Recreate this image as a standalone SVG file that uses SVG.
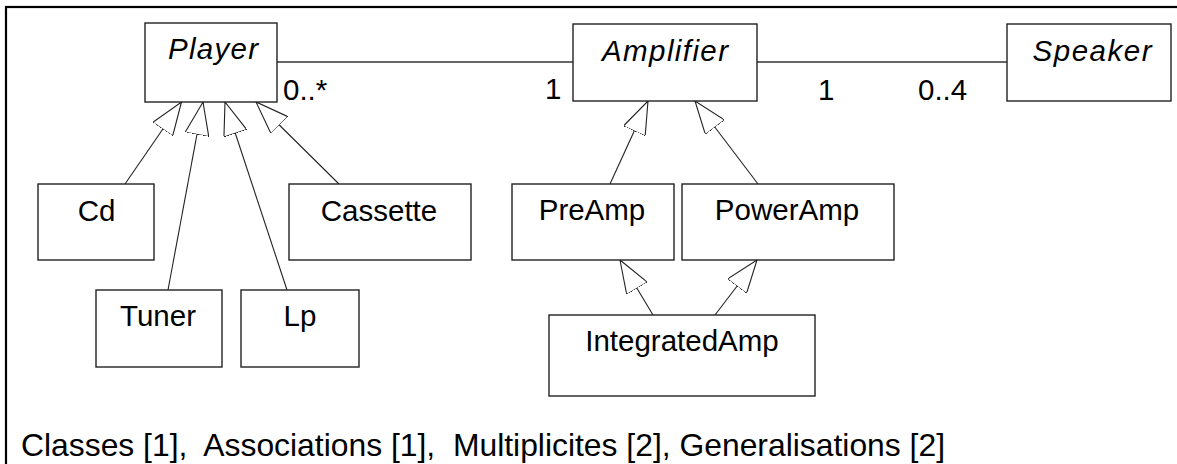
<svg xmlns="http://www.w3.org/2000/svg" width="1177" height="464" viewBox="0 0 1177 464">
<style>
.box{fill:#fff;stroke:#222;stroke-width:1.4}
.lbl{font-family:"Liberation Sans",Arial,sans-serif;font-size:29.5px;fill:#000;text-anchor:middle}
.it{font-style:italic}
.mult{font-family:"Liberation Sans",Arial,sans-serif;font-size:29.5px;fill:#000}
.assoc{stroke:#333;stroke-width:1.4;fill:none}
.gen{stroke:#222;stroke-width:1.1;fill:none;marker-end:url(#tri)}
.foot{font-family:"Liberation Sans",Arial,sans-serif;font-size:32px;fill:#000;white-space:pre}
</style>
<defs>
<marker id="tri" viewBox="0 0 34 24" markerWidth="34" markerHeight="24" refX="33" refY="12" orient="auto" markerUnits="userSpaceOnUse">
<path d="M0,0 L33,12 L0,24 Z" fill="#fff" stroke="#222" stroke-width="1.1"/>
</marker>
</defs>
<rect width="1177" height="464" fill="#fff"/>
<rect x="6" y="7" width="1200" height="500" fill="none" stroke="#000" stroke-width="2.2"/>
<g id="connectors">
<line class="assoc" x1="277" y1="62" x2="573" y2="62"/>
<line class="assoc" x1="757" y1="62" x2="1007" y2="62"/>
<line class="gen" x1="125" y1="184" x2="181.5" y2="102"/>
<line class="gen" x1="168" y1="290" x2="203" y2="102"/>
<line class="gen" x1="287" y1="290" x2="225" y2="102"/>
<line class="gen" x1="339" y1="184" x2="256" y2="102"/>
<line class="gen" x1="610" y1="184" x2="648" y2="101"/>
<line class="gen" x1="758" y1="184" x2="695" y2="101"/>
<line class="gen" x1="653" y1="315" x2="620" y2="260"/>
<line class="gen" x1="715" y1="315" x2="757" y2="260"/>
<text class="mult" x="283" y="100">0..*</text>
<text class="mult" x="545" y="99">1</text>
<text class="mult" x="818" y="100">1</text>
<text class="mult" x="918" y="100">0..4</text>
</g>
<g id="Player"><rect class="box" x="145" y="23" width="132" height="79"/><text class="lbl it" x="213" y="59" textLength="90">Player</text></g>
<g id="Amplifier"><rect class="box" x="573" y="24" width="184" height="77"/><text class="lbl it" x="665" y="61" textLength="126">Amplifier</text></g>
<g id="Speaker"><rect class="box" x="1007" y="24" width="164" height="77"/><text class="lbl it" x="1092" y="61" textLength="119">Speaker</text></g>
<g id="Cd"><rect class="box" x="38" y="184" width="116" height="76"/><text class="lbl" x="96.5" y="221">Cd</text></g>
<g id="Cassette"><rect class="box" x="289" y="184" width="182" height="76"/><text class="lbl" x="379" y="221">Cassette</text></g>
<g id="Tuner"><rect class="box" x="96" y="290" width="126" height="77"/><text class="lbl" x="158" y="326">Tuner</text></g>
<g id="Lp"><rect class="box" x="241" y="290" width="118" height="77"/><text class="lbl" x="300" y="326">Lp</text></g>
<g id="PreAmp"><rect class="box" x="512" y="184" width="162" height="76"/><text class="lbl" x="592" y="220">PreAmp</text></g>
<g id="PowerAmp"><rect class="box" x="682" y="184" width="212" height="76"/><text class="lbl" x="787" y="220">PowerAmp</text></g>
<g id="IntegratedAmp"><rect class="box" x="549" y="315" width="266" height="81"/><text class="lbl" x="682" y="351">IntegratedAmp</text></g>
<text class="foot" x="21" y="456" textLength="924" lengthAdjust="spacingAndGlyphs">Classes [1],  Associations [1],  Multiplicites [2], Generalisations [2]</text>
</svg>
